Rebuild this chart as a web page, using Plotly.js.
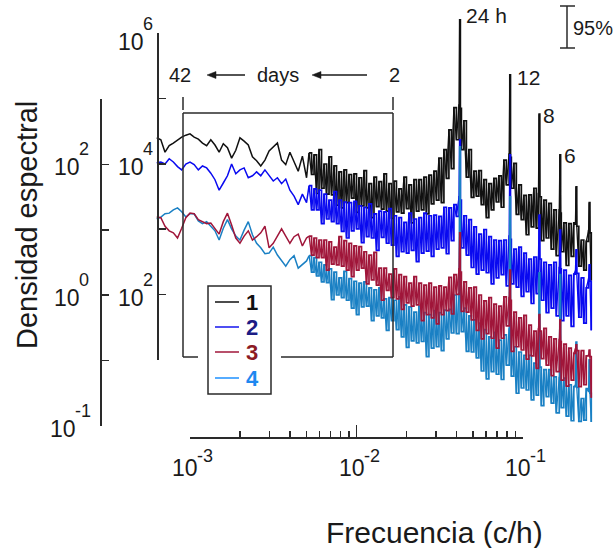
<!DOCTYPE html>
<html><head><meta charset="utf-8">
<script src="https://cdn.plot.ly/plotly-3.0.1.min.js"></script>
<style>html,body{margin:0;padding:0;background:#fff}#chart{width:613px;height:548px}</style>
</head><body><div id="chart"></div>
<script>
// log10 of frequency (c/h)
const logFreq = [
-3.2,-3.175,-3.15,-3.125,-3.1,-3.075,-3.05,-3.025,-3.0,-2.975,
-2.95,-2.925,-2.9,-2.875,-2.85,-2.825,-2.8,-2.775,-2.75,-2.725,
-2.7,-2.675,-2.65,-2.625,-2.6,-2.575,-2.55,-2.525,-2.5,-2.475,
-2.45,-2.425,-2.4,-2.375,-2.35,-2.325,-2.3,
-2.285,-2.27,-2.255,-2.24,-2.225,-2.21,-2.195,-2.18,-2.165,-2.15,
-2.135,-2.12,-2.105,-2.09,-2.075,-2.06,-2.045,-2.03,-2.015,-2.0,
-1.985,-1.97,-1.955,-1.94,-1.925,-1.91,-1.895,-1.88,-1.865,-1.85,
-1.835,-1.82,-1.805,-1.79,-1.775,-1.76,-1.745,-1.73,-1.715,-1.7,
-1.685,-1.67,-1.655,-1.64,-1.625,-1.61,-1.595,-1.58,-1.565,-1.55,
-1.535,-1.52,-1.505,-1.49,-1.475,-1.46,-1.445,-1.43,-1.415,-1.4,
-1.3842,-1.3802,-1.3762,-1.37,-1.355,-1.34,-1.325,-1.31,-1.295,-1.28,-1.265,-1.25,
-1.235,-1.22,-1.205,-1.19,-1.175,-1.16,-1.145,-1.13,-1.115,-1.1,
-1.0832,-1.0792,-1.0752,-1.07,-1.055,-1.04,-1.025,-1.01,-0.995,-0.98,-0.965,-0.95,
-0.935,-0.92,-0.9071,-0.9031,-0.8991,-0.89,-0.875,-0.86,-0.845,-0.83,-0.815,-0.8,
-0.7822,-0.7782,-0.7742,-0.77,-0.755,-0.74,-0.725,-0.71,-0.695,-0.6852,-0.6812,-0.6772,-0.665,-0.65,
-0.635,-0.62,-0.6061,-0.6021,-0.5981,-0.59];

// log10 of spectral density, series 1..4
const logDensity1 = [
4.40,4.37,4.18,4.28,4.32,4.37,4.41,4.44,4.46,4.41,4.38,4.32,4.28,4.37,4.29,4.18,4.31,4.25,4.09,4.21,
4.40,4.35,4.29,4.11,4.05,3.97,4.06,4.20,4.26,4.32,4.06,3.99,4.18,4.03,3.89,4.12,3.79,
4.17,3.84,4.14,3.55,4.22,3.63,4.00,3.54,4.11,3.53,
3.97,3.37,3.88,3.33,3.91,3.41,3.84,3.48,3.85,3.26,
3.79,3.36,3.90,3.33,3.70,3.18,3.80,3.35,3.73,3.31,
3.85,3.28,3.70,3.17,3.74,3.27,3.62,3.25,3.80,3.32,
3.68,3.10,3.76,3.28,3.76,3.30,3.80,3.24,3.83,3.39,
3.89,3.45,4.09,3.41,4.22,3.78,4.52,3.93,4.86,4.37,
4.90,6.20,4.85,4.22,4.66,3.80,4.22,3.49,3.89,3.51,3.90,3.38,
3.76,3.18,3.70,3.30,3.78,3.42,3.82,3.34,4.06,3.68,
4.15,5.36,4.10,3.63,4.01,3.23,3.68,3.15,3.52,2.92,3.53,3.04,
3.63,3.02,3.55,4.76,3.50,2.83,3.45,2.87,3.40,2.70,3.30,2.60,
3.30,4.14,3.25,2.66,3.10,2.45,3.09,2.59,3.10,3.08,3.65,3.05,2.44,2.84,
2.38,2.82,2.98,3.41,2.95,2.22];
const logDensity2 = [
4.02,4.03,4.00,4.08,4.03,3.96,3.91,4.00,4.03,3.99,3.91,3.97,3.94,3.86,3.76,3.60,3.71,3.82,4.00,3.85,
3.91,3.94,3.79,3.82,3.88,3.82,3.91,3.82,3.74,3.79,3.70,3.77,3.60,3.51,3.38,3.54,3.41,
3.67,3.30,3.62,3.30,3.60,3.09,3.54,3.16,3.45,3.12,
3.58,3.09,3.45,2.97,3.42,2.87,3.41,2.98,3.43,3.01,
3.36,2.80,3.34,2.89,3.39,2.87,3.24,2.68,3.28,2.88,
3.27,2.79,3.32,2.76,3.21,2.59,3.18,2.66,3.11,2.64,
3.25,2.68,3.16,2.51,3.18,2.64,3.25,2.67,3.21,2.59,
3.22,2.70,3.20,2.72,3.34,2.63,3.33,2.83,3.38,3.20,
3.50,4.37,3.45,2.72,3.21,2.61,3.15,2.42,3.04,2.32,2.93,2.38,
3.00,2.34,2.89,2.17,2.84,2.26,2.83,2.31,2.84,2.14,
2.90,4.14,2.85,2.17,2.70,2.12,2.73,1.98,2.64,2.05,2.55,1.87,
2.58,2.02,2.58,3.22,2.55,1.92,2.50,1.73,2.46,1.80,2.50,1.68,
2.42,2.99,2.40,1.61,2.38,1.68,2.30,1.52,2.32,2.36,2.69,2.33,1.66,2.26,
1.57,2.11,2.24,2.46,2.21,1.46];
const logDensity3 = [
3.19,3.18,3.05,2.98,2.95,2.87,3.02,3.18,3.25,3.24,3.15,3.12,3.09,3.10,3.01,2.93,3.12,3.25,3.07,2.87,
2.79,2.90,2.98,2.84,2.89,2.95,3.05,2.72,2.79,2.89,3.01,2.90,2.79,2.89,2.93,2.75,2.87,
2.90,2.61,2.87,2.57,2.84,2.57,2.84,2.38,2.81,2.47,
2.73,2.46,2.89,2.44,2.83,2.38,2.79,2.28,2.75,2.38,
2.74,2.41,2.66,2.17,2.61,2.23,2.65,2.15,2.41,1.92,
2.41,2.07,2.32,1.96,2.40,1.94,2.31,1.78,2.28,1.88,
2.18,1.83,2.28,1.85,2.18,1.61,2.15,1.70,2.18,1.65,
2.12,1.56,2.14,1.70,2.12,1.76,2.27,1.71,2.31,2.01,
2.40,2.95,2.35,1.75,2.20,1.74,2.11,1.62,2.12,1.46,2.00,1.33,
1.91,1.41,1.96,1.34,1.86,1.19,1.83,1.34,1.97,1.53,
1.96,2.38,1.92,1.14,1.74,1.21,1.65,1.16,1.69,1.02,1.54,1.07,
1.45,0.88,1.48,1.70,1.45,1.03,1.49,0.93,1.36,0.77,1.33,0.83,
1.32,1.62,1.29,0.70,1.25,0.61,1.19,0.70,1.11,1.17,1.24,1.15,0.60,1.15,
0.63,1.07,1.08,1.16,1.06,0.43];
const logDensity4 = [
3.16,3.19,3.24,3.25,3.30,3.33,3.27,3.19,3.24,3.24,3.13,3.09,3.12,3.05,2.98,2.84,3.02,3.15,3.01,2.90,
2.84,2.99,3.12,2.92,2.79,2.72,2.63,2.64,2.73,2.61,2.52,2.44,2.54,2.60,2.41,2.46,2.52,
2.60,2.35,2.57,2.29,2.50,2.20,2.46,2.19,2.40,1.93,
2.35,2.00,2.26,1.96,2.36,1.92,2.25,1.80,2.21,1.70,
2.18,1.82,2.20,1.83,2.11,1.61,2.08,1.68,2.11,1.65,
1.94,1.46,1.96,1.61,1.92,1.47,1.97,1.36,1.85,1.20,
1.82,1.30,1.74,1.27,1.83,1.29,1.73,1.06,1.70,1.19,
1.76,1.21,1.73,1.15,1.77,1.33,1.78,1.42,2.00,1.41,
2.02,4.26,1.98,1.44,1.80,1.14,1.68,1.13,1.62,1.04,1.57,0.84,
1.47,0.72,1.36,0.83,1.43,0.79,1.31,0.71,1.39,0.93,
1.48,3.50,1.44,0.76,1.21,0.50,1.13,0.58,1.08,0.55,1.08,0.40,
0.96,0.47,0.94,2.34,0.90,0.31,0.86,0.45,0.86,0.35,0.75,0.20,
0.74,2.31,0.71,0.28,0.73,0.15,0.63,0.08,0.60,0.62,1.28,0.59,0.07,0.42,
0.09,0.57,0.53,1.01,0.50,0.06];

const seriesNames = ['1','2','3','4'];
const lineColors = ['#111111','#0a0af0','#a0163a','#1a80c4'];
const legendLineColors = ['#111111','#1515ee','#a0163a','#1e90ff'];
const legendTextColors = ['#111111','#1c1c85','#8c1a24','#1e88f0'];

// tick values with their labels (base and exponent)
const xTickVals = [0.001, 0.01, 0.1];
const xTickExp = ['-3','-2','-1'];
const xMinorVals = [0.002,0.003,0.004,0.005,0.006,0.007,0.008,0.009,0.02,0.03,0.04,0.05,0.06,0.07,0.08,0.09];
const innerTickVals = [100, 10000, 1000000];
const innerTickExp = ['2','4','6'];
const innerMinorVals = [10, 1000, 100000];
const outerTickVals = [0.01, 1, 100];
const outerTickExp = ['-1','0','2'];
const outerMinorVals = [0.1, 10, 1000];
const tickBase = '10';
const peakLabels = ['24 h','12','8','6'];

const W = 613, H = 548;
const px = v => v / W;
const py = v => 1 - v / H;
const FONT = 'Liberation Sans, Arial, Helvetica, sans-serif';
const INK = '#1a1a1a';
const SPLIT = 37; // first index of the densely sampled part

const densities = [logDensity1, logDensity2, logDensity3, logDensity4];
const freq = logFreq.map(v => Math.pow(10, v));
const drawOrder = [0, 1, 3, 2];
const traces = [];
drawOrder.forEach(i => {
  const y = densities[i].map(v => Math.pow(10, v));
  const xs = freq.slice(SPLIT), ys = y.slice(SPLIT);
  traces.push({type:'scatter', mode:'lines', name: seriesNames[i],
    x: freq.slice(0, SPLIT + 1), y: y.slice(0, SPLIT + 1),
    line:{color: lineColors[i], width: 1.5}, showlegend:false, hoverinfo:'skip'});
  traces.push({type:'scatter', mode:'lines', name: seriesNames[i], x: xs, y: ys,
    line:{color: lineColors[i], width: 1.7, shape:'hv'}, showlegend:false, hoverinfo:'skip'});
  traces.push({type:'scatter', mode:'lines', name: seriesNames[i], x: xs, y: ys,
    line:{color: lineColors[i], width: 1.3}, showlegend:false, hoverinfo:'skip'});
});
traces.push({type:'scatter', mode:'lines', x:[], y:[], xaxis:'x2', yaxis:'y', showlegend:false, hoverinfo:'skip'});
traces.push({type:'scatter', mode:'lines', x:[], y:[], xaxis:'x', yaxis:'y2', showlegend:false, hoverinfo:'skip'});
traces.push({type:'scatter', mode:'lines', x:[], y:[], xaxis:'x', yaxis:'y3', showlegend:false, hoverinfo:'skip'});

const axLine = {showline: true, linecolor: '#2a2a2a', linewidth: 1.5, showgrid: false, zeroline: false,
  tickcolor: '#2a2a2a', tickwidth: 1.5, showticklabels: false};
const minorStyle = {ticks:'inside', tickwidth:1.5, tickcolor:'#2a2a2a', showgrid:false};

const layout = {
  width: W, height: H, margin: {l:0, r:0, t:0, b:0, pad:0},
  paper_bgcolor: '#ffffff', plot_bgcolor: 'rgba(0,0,0,0)', showlegend: false, hovermode: false,
  xaxis: {type:'log', range:[-3 - 190/166.5, -3 + 423/166.5], domain:[0,1], visible:false},
  yaxis: {type:'log', range:[-122/65.5, 426/65.5], domain:[0,1], visible:false},
  xaxis2: Object.assign({}, axLine, {type:'log', range:[-3,-1], domain:[px(190), px(523)],
    anchor:'free', position: py(437), side:'bottom',
    tickmode:'array', tickvals: xTickVals, ticks:'inside', ticklen: 12,
    minor: Object.assign({tickmode:'array', tickvals: xMinorVals, ticklen: 6}, minorStyle)}),
  yaxis2: Object.assign({}, axLine, {type:'log', range:[1,6], domain:[py(360), py(33)],
    anchor:'free', position: px(157), side:'left',
    tickmode:'array', tickvals: innerTickVals, ticks:'inside', ticklen: 7,
    minor: Object.assign({tickmode:'array', tickvals: innerMinorVals, ticklen: 7}, minorStyle)}),
  yaxis3: Object.assign({}, axLine, {type:'log', range:[-2,3], domain:[py(426), py(99)],
    anchor:'free', position: px(100), side:'left',
    tickmode:'array', tickvals: outerTickVals, ticks:'inside', ticklen: 7,
    minor: Object.assign({tickmode:'array', tickvals: outerMinorVals, ticklen: 7}, minorStyle)}),
  shapes: [],
  annotations: []
};

function seg(x0, y0, x1, y1, color, width) {
  layout.shapes.push({type:'line', xref:'paper', yref:'paper', x0:px(x0), y0:py(y0), x1:px(x1), y1:py(y1),
    line:{color: color || '#2a2a2a', width: width || 1.5}, layer:'above'});
}
function arrowLeft(tipX, tailX, y) {
  seg(tailX, y, tipX + 6, y, INK, 1.5);
  layout.shapes.push({type:'path', xref:'paper', yref:'paper', layer:'above',
    path: 'M' + px(tipX) + ',' + py(y) + ' L' + px(tipX + 9) + ',' + py(y - 3.5) +
          ' L' + px(tipX + 9) + ',' + py(y + 3.5) + ' Z',
    fillcolor: INK, line:{color: INK, width: 0.5}});
}
function label(text, x, y, size, xanchor, extra) {
  layout.annotations.push(Object.assign({text: text, xref:'paper', yref:'paper', x:px(x), y:py(y),
    xanchor: xanchor || 'center', yanchor:'middle', showarrow:false,
    font:{family: FONT, size: size, color: INK}}, extra || {}));
}
function tickLabel(base, exp, ref) {
  const common = {showarrow:false, yanchor:'middle', borderpad:0, borderwidth:0};
  layout.annotations.push(Object.assign({}, common, ref.base, {text: base, font:{family: FONT, size: 23, color: INK}}));
  layout.annotations.push(Object.assign({}, common, ref.exp, {text: exp, font:{family: FONT, size: 18, color: INK}}));
}

// axis tick labels, placed on the axes' own scales
const innerDy = [0, 0, -6];
const outerDx = [-4, 0, 0];
xTickVals.forEach((v, i) => tickLabel(tickBase, xTickExp[i], {
  base: {xref:'x2', x: Math.log10(v), yref:'paper', y: py(468), xanchor:'right', xshift: 8},
  exp:  {xref:'x2', x: Math.log10(v), yref:'paper', y: py(456), xanchor:'left', xshift: 7}}));
innerTickVals.forEach((v, i) => tickLabel(tickBase, innerTickExp[i], {
  base: {xref:'paper', x: px(143), yref:'y2', y: Math.log10(v), xanchor:'right', xshift: 1, yshift: -3 + innerDy[i]},
  exp:  {xref:'paper', x: px(143), yref:'y2', y: Math.log10(v), xanchor:'left', xshift: 0, yshift: 15 + innerDy[i]}}));
outerTickVals.forEach((v, i) => tickLabel(tickBase, outerTickExp[i], {
  base: {xref:'paper', x: px(79), yref:'y3', y: Math.log10(v), xanchor:'right', xshift: 1 + outerDx[i], yshift: -3},
  exp:  {xref:'paper', x: px(79), yref:'y3', y: Math.log10(v), xanchor:'left', xshift: outerDx[i], yshift: 15}}));

// bracket box (42 days .. 2 days)
seg(183, 97, 183, 110); seg(393, 97, 393, 110);
seg(183, 113, 393, 113); seg(183, 113, 183, 357); seg(393, 113, 393, 357);
seg(183, 357, 198, 357); seg(281, 357, 393, 357);
label('42', 180, 75, 20); label('days', 278, 75, 20); label('2', 394, 75, 20);
arrowLeft(207, 245, 75);
arrowLeft(312, 367, 75);

// peak labels
label(peakLabels[0], 464, 16, 21, 'left');
label(peakLabels[1], 515, 77, 21, 'left');
label(peakLabels[2], 541, 115, 21, 'left');
label(peakLabels[3], 562, 155, 21, 'left');

// 95% bar
seg(567, 6, 567, 48); seg(560, 6, 575, 6); seg(560, 48, 575, 48);
label('95%', 571, 28, 20, 'left');

// legend
layout.shapes.push({type:'rect', xref:'paper', yref:'paper', x0:px(208), x1:px(271), y0:py(394), y1:py(286),
  line:{color:'#2a2a2a', width:1.5}, fillcolor:'#ffffff', layer:'above'});
const legendY = [302, 327, 352, 378];
seriesNames.forEach((n, i) => {
  seg(215, legendY[i], 239, legendY[i], legendLineColors[i], 1.5);
  label('<b>' + n + '</b>', 244, legendY[i], 22, 'left', {font:{family: FONT, size: 22, color: legendTextColors[i]}});
});

// axis titles
label('Densidad espectral', 27, 225, 29, 'center', {textangle: -90});
label('Frecuencia (c/h)', 434, 532, 30, 'center');

Plotly.newPlot('chart', traces, layout, {staticPlot: true, displayModeBar: false});
</script>
</body></html>
